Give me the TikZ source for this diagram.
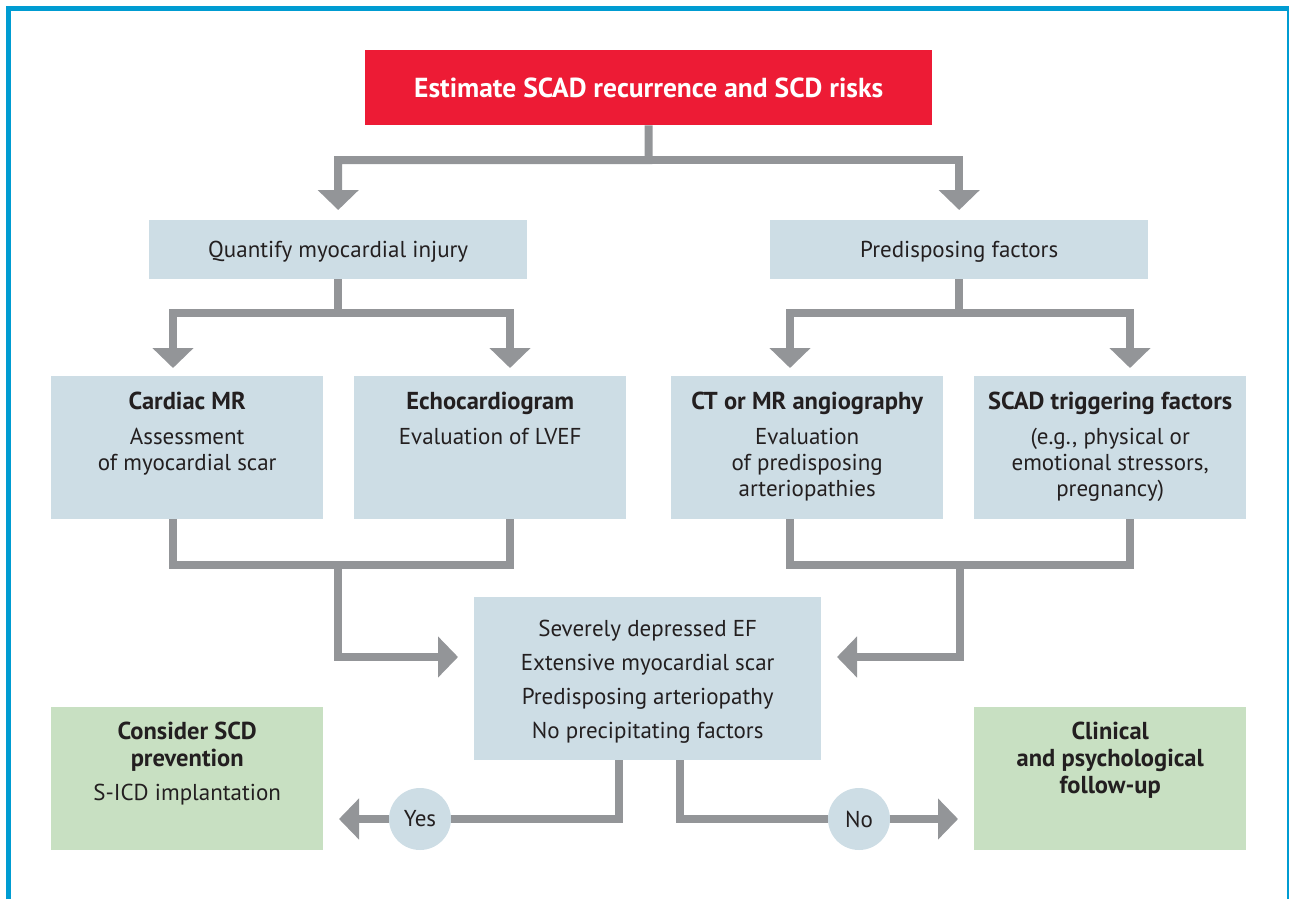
\documentclass[tikz,border=0pt]{standalone}
\usepackage{fontspec}
\setmainfont{PT Sans}
\usetikzlibrary{arrows.meta,calc}
\definecolor{frameblue}{RGB}{0,156,210}
\definecolor{boxblue}{RGB}{205,221,229}
\definecolor{boxgreen}{RGB}{200,224,194}
\definecolor{conngray}{RGB}{147,149,152}
\definecolor{titlered}{RGB}{237,27,53}
\definecolor{textdark}{RGB}{35,31,32}
\newcommand\hd[1]{{\fontsize{24.5}{26}\selectfont\bfseries #1}}
\begin{document}
\begin{tikzpicture}[x=1pt,y=-1pt,
  txt/.style={font=\fontsize{23}{26}\selectfont, text=textdark, align=center, inner sep=0, anchor=north},
  bluebox/.style={fill=boxblue, inner sep=0, anchor=north west},
  greenbox/.style={fill=boxgreen, inner sep=0, anchor=north west},
  tallbox/.style={minimum width=272pt, minimum height=143pt},
  widebox/.style={minimum width=378pt, minimum height=59pt, text depth=0pt, font=\fontsize{23}{26}\selectfont, text=textdark},
  conn/.style={draw=conngray, line width=8pt},
  arr/.style={conn, -{Triangle[length=20pt,width=40pt]}},
  answer/.style={circle, fill=boxblue, minimum size=62pt, inner sep=0, font=\fontsize{23}{26}\selectfont, text=textdark}
]
\path[use as bounding box] (0,0) rectangle (1289,899);
% frame
\draw[frameblue, line width=5pt] (8.5,899) -- (8.5,9) -- (1289,9);
\draw[frameblue, line width=2pt] (1287.5,9) -- (1287.5,899);

% boxes
\node[fill=titlered, minimum width=567pt, minimum height=75pt, anchor=north west, inner sep=0, text=white, font=\bfseries\fontsize{27.5}{30}\selectfont] (top) at (365,50) {Estimate SCAD recurrence and SCD risks};
\node[bluebox, widebox] (quant) at (149,220) {Quantify myocardial injury};
\node[bluebox, widebox] (pred) at (770,220) {Predisposing factors};
\node[bluebox, tallbox] (cmr) at (51,376) {};
\node[bluebox, tallbox] (echo) at (354,376) {};
\node[bluebox, tallbox] (cta) at (671,376) {};
\node[bluebox, tallbox] (trig) at (974,376) {};
\node[bluebox, minimum width=347pt, minimum height=163pt] (crit) at (474,597) {};
\node[greenbox, tallbox] (icd) at (51,707) {};
\node[greenbox, tallbox] (fu) at (974,707) {};

% texts
\node[txt] (cmrt) at ([yshift=-16pt]cmr.north) {\hd{Cardiac MR}\\[9pt] Assessment\\ of myocardial scar};
\node[txt] (echot) at ([yshift=-16pt]echo.north) {\hd{Echocardiogram}\\[9pt] Evaluation of LVEF};
\node[txt] (ctat) at ([yshift=-16pt]cta.north) {\hd{CT or MR angiography}\\[9pt] Evaluation\\ of predisposing\\ arteriopathies};
\node[txt] (trigt) at ([yshift=-16pt]trig.north) {\hd{SCAD triggering factors}\\[9pt] (e.g., physical or\\ emotional stressors,\\ pregnancy)};
\node[txt, font=\fontsize{23}{34}\selectfont] (critt) at ([yshift=-23pt]crit.north) {Severely depressed EF\\ Extensive myocardial scar\\ Predisposing arteriopathy\\ No precipitating factors};
\node[txt] (icdt) at ([yshift=-15pt]icd.north) {\hd{Consider SCD}\\[1pt] \hd{prevention}\\[8pt] S-ICD implantation};
\node[txt] (fut) at ([yshift=-15pt]fu.north) {\hd{Clinical}\\[1pt] \hd{and psychological}\\[1pt] \hd{follow-up}};

% coordinates
\coordinate (t1) at (648.5,160);
\coordinate (qa) at (173,368);
\coordinate (qb) at (510,368);
\coordinate (pa) at (790,368);
\coordinate (pb) at (1130,368);
\coordinate (lj) at (338,565);
\coordinate (rj) at (960,565);
\coordinate (ltip) at (458,657);
\coordinate (rtip) at (837,657);
\coordinate (ys) at (619,760);
\coordinate (ns) at (680,760);
\coordinate (ytip) at (339,819);
\coordinate (ntip) at (958,819);

% connectors
\draw[arr] (top.south) -- (t1) -| ([yshift=10pt]quant.north);
\draw[arr] (t1) -| ([yshift=10pt]pred.north);
\draw[arr] (quant.south) -- ++(0,34) -| (qa);
\draw[arr] ($(quant.south)+(0,34)$) -| (qb);
\draw[arr] (pred.south) -- ++(0,34) -| (pa);
\draw[arr] ($(pred.south)+(0,34)$) -| (pb);
\draw[conn] (cmr.south -| qa) |- (lj) -| (echo.south -| qb);
\draw[arr] (lj) |- (ltip);
\draw[conn] (cta.south -| pa) |- (rj) -| (trig.south -| pb);
\draw[arr] (rj) |- (rtip);

\node[answer] (yes) at (420,819) {Yes};
\node[answer] (no) at (859,819) {No};
\draw[conn] (ys) |- (yes);
\draw[arr] (yes) -- (ytip);
\draw[conn] (ns) |- (no);
\draw[arr] (no) -- (ntip);
\end{tikzpicture}
\end{document}
